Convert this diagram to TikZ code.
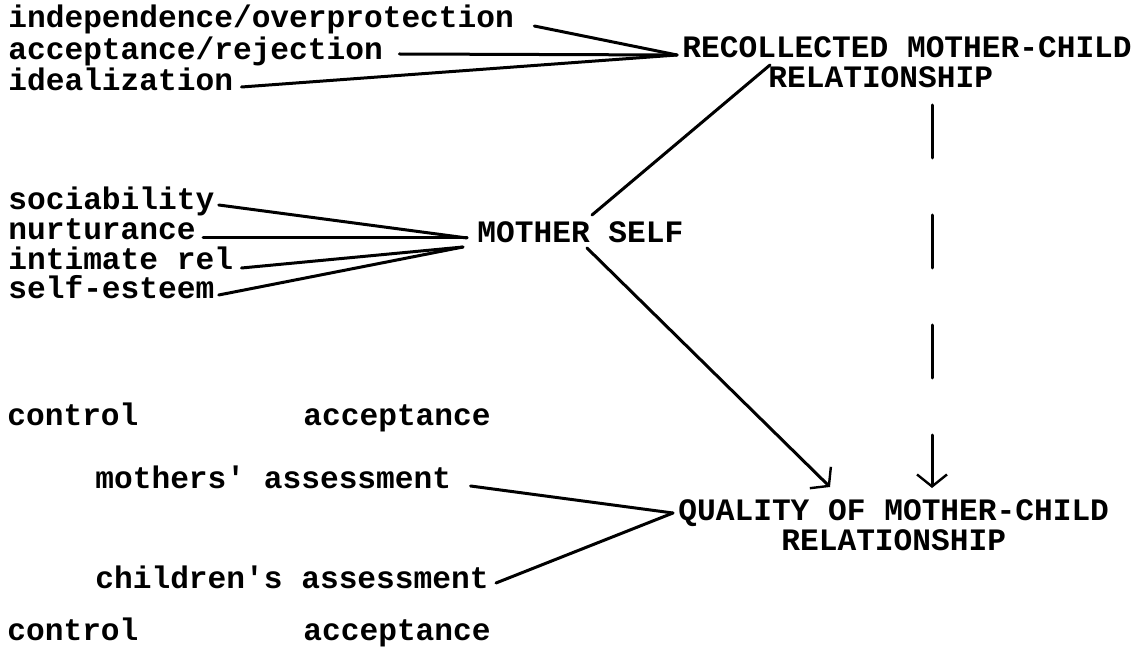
\documentclass[tikz,border=0pt]{standalone}
\usepackage{fontspec}
\usepackage{tikz}
\usetikzlibrary{arrows.meta, positioning}
\newfontfamily\typew{Liberation Mono}

\begin{document}
\begin{tikzpicture}[x=0.5pt, y=-0.5pt,
  lbl/.style={anchor=base west, inner sep=0pt, font=\typew\bfseries\fontsize{15.6}{15}\selectfont},
  link/.style={line width=1.5pt, line cap=round},
  tip/.style={-{Straight Barb[length=6pt, width=15pt, line width=1.2pt]}}]
  \useasboundingbox (0,0) rectangle (1141,652);
  % Recollected relationship
  \node[lbl] (indep) at (8,28) {independence/overprotection};
  \node[lbl] (accrej) at (8,60) {acceptance/rejection};
  \node[lbl] (ideal) at (8,91) {idealization};
  \node[lbl, align=left] (recoll) at (682,88) {RECOLLECTED MOTHER-CHILD\\\hspace*{43pt}RELATIONSHIP};
  \draw[link] ([xshift=10pt, yshift=1pt]indep.base east) -- ([xshift=-2.5pt, yshift=16.5pt]recoll.base west);
  \draw[link] ([xshift=8pt, yshift=3pt]accrej.base east) -- ([xshift=-2.5pt, yshift=16.5pt]recoll.base west);
  \draw[link] ([xshift=4pt, yshift=2pt]ideal.base east) -- ([xshift=-2.5pt, yshift=16.5pt]recoll.base west);
  % Mother self
  \node[lbl] (soc) at (8,210) {sociability};
  \node[lbl] (nurt) at (8,240) {nurturance};
  \node[lbl] (intim) at (8,270) {intimate rel};
  \node[lbl] (esteem) at (8,299) {self-esteem};
  \node[lbl] (mself) at (477,243) {MOTHER SELF};
  \draw[link] ([xshift=2pt, yshift=2.5pt]soc.base east) -- ([xshift=-5pt, yshift=2.5pt]mself.base west);
  \draw[link] ([xshift=3.5pt, yshift=1pt]nurt.base east) -- ([xshift=-5pt, yshift=2.5pt]mself.base west);
  \draw[link] ([xshift=4pt, yshift=1pt]intim.base east) -- ([xshift=-7pt, yshift=-2pt]mself.base west);
  \draw[link] ([xshift=2pt, yshift=2pt]esteem.base east) -- ([xshift=-7pt, yshift=-2pt]mself.base west);
  \draw[link] ([xshift=57.5pt, yshift=14pt]mself.base west) -- ([xshift=44pt, yshift=11.5pt]recoll.base west);
  % Quality of relationship
  \node[lbl] (ctrla) at (7,425) {control};
  \node[lbl] (accpa) at (303,425) {acceptance};
  \node[lbl] (mass) at (95,488) {mothers' assessment};
  \node[lbl] (cass) at (95,588) {children's assessment};
  \node[lbl] (ctrlb) at (7,640) {control};
  \node[lbl] (accpb) at (303,640) {acceptance};
  \node[lbl, align=center] (quality) at (678,550) {QUALITY OF MOTHER-CHILD\\RELATIONSHIP};
  \draw[link] ([xshift=9.5pt, yshift=1pt]mass.base east) -- ([xshift=-2.5pt, yshift=18.5pt]quality.base west);
  \draw[link] ([xshift=3.5pt, yshift=2.5pt]cass.base east) -- ([xshift=-2.5pt, yshift=18.5pt]quality.base west);
  \draw[link, tip] ([xshift=55pt, yshift=-2.5pt]mself.base west) -- ([xshift=76pt, yshift=31.5pt]quality.base west);
  \draw[link, tip, dash pattern=on 26.5pt off 28.5pt] ([xshift=125pt, yshift=-8.5pt]recoll.base west) -- ([xshift=127pt, yshift=31pt]quality.base west);
\end{tikzpicture}
\end{document}
